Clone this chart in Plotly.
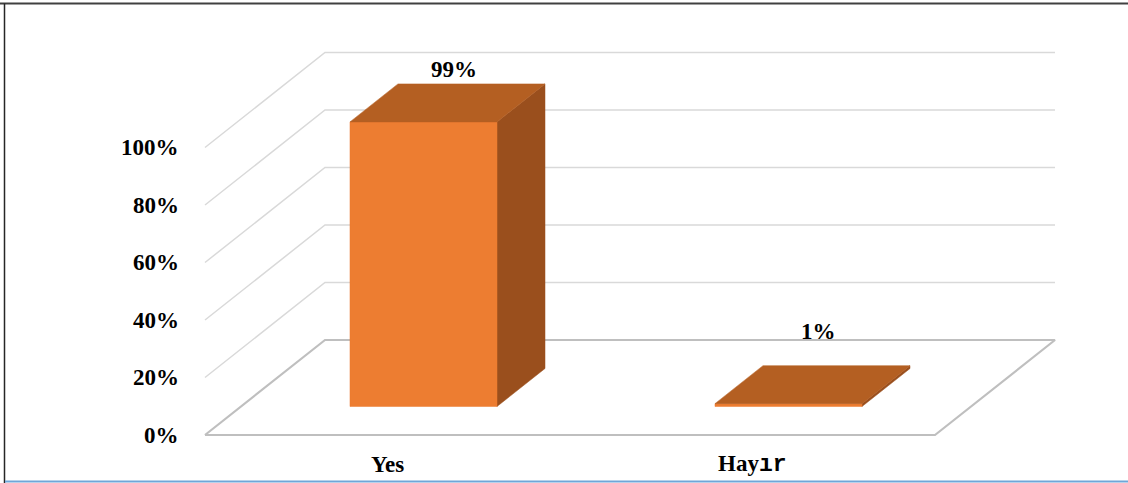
import plotly.graph_objects as go

# ---- data -------------------------------------------------------------
categories = ["Yes", "Hayır"]
category_labels = ["Yes", "Hay<span style=\"font-family:'Liberation Mono'\">ır</span>"]
values = [99, 1]                      # percent
value_labels = ["99%", "1%"]
tick_values = [0, 20, 40, 60, 80, 100]
tick_labels = ["0%", "20%", "40%", "60%", "80%", "100%"]

# ---- styling ----------------------------------------------------------
W, H = 1128, 483
PX_PER_CAT = 365.0          # horizontal pixels per category slot
PX_PER_PCT = 2.875          # vertical pixels per percent
ORIGIN_X, ORIGIN_Y = 205, 435   # pixel position of (first category edge, 0 %)
DEPTH_DX_PX, DEPTH_DY_PX = 120, 95   # oblique offset of the back wall

DX = DEPTH_DX_PX / PX_PER_CAT     # depth offset in x units
DY = DEPTH_DY_PX / PX_PER_PCT     # depth offset in y units
BAR_HALF = 0.2014                 # half bar width in category units
BAR_D0, BAR_D1 = 0.3, 0.7         # bar extent in depth (0 = front, 1 = back)
LABEL_LIFT = [33, 53]             # px above top-face centre for value labels

FRONT = "#ED7D31"
TOP = "#B45F22"
SIDE = "#9A4F1D"
GRID = "#D9D9D9"
FLOOR = "#BFBFBF"
FONT = "Times New Roman, Liberation Serif, Times, serif"
FS = 23

fig = go.Figure()


def proj(x, y, d):
    """Oblique projection of (category x, value y, depth d) into axis units."""
    return x + d * DX, y + d * DY


def line(xs, ys, color, width):
    fig.add_trace(go.Scatter(x=xs, y=ys, mode="lines",
                             line=dict(color=color, width=width),
                             hoverinfo="skip", showlegend=False))


def poly(pts, color):
    xs = [p[0] for p in pts] + [pts[0][0]]
    ys = [p[1] for p in pts] + [pts[0][1]]
    fig.add_trace(go.Scatter(x=xs, y=ys, mode="lines", fill="toself",
                             fillcolor=color, line=dict(color=color, width=0.5),
                             hoverinfo="skip", showlegend=False))


n = len(categories)

# back wall and side wall gridlines
for v in tick_values[1:]:
    bx0, by = proj(0, v, 1)
    bx1, _ = proj(n, v, 1)
    line([0, bx0, bx1], [v, by, by], GRID, 1.5)

# floor outline
f_pts = [proj(0, 0, 0), proj(n, 0, 0), proj(n, 0, 1), proj(0, 0, 1), proj(0, 0, 0)]
line([p[0] for p in f_pts], [p[1] for p in f_pts], FLOOR, 2.2)

# 3-D bars
for i, v in enumerate(values):
    c = i + 0.5
    xl, xr = c - BAR_HALF, c + BAR_HALF
    front = [proj(xl, 0, BAR_D0), proj(xr, 0, BAR_D0), proj(xr, v, BAR_D0), proj(xl, v, BAR_D0)]
    side = [proj(xr, 0, BAR_D0), proj(xr, 0, BAR_D1), proj(xr, v, BAR_D1), proj(xr, v, BAR_D0)]
    top = [proj(xl, v, BAR_D0), proj(xr, v, BAR_D0), proj(xr, v, BAR_D1), proj(xl, v, BAR_D1)]
    poly(side, SIDE)
    poly(front, FRONT)
    poly(top, TOP)

annotations = []

# value labels
for i, v in enumerate(values):
    cx, cy = proj(i + 0.5, v, 0.5)
    annotations.append(dict(x=cx, y=cy, xref="x", yref="y", text=f"<b>{value_labels[i]}</b>",
                            showarrow=False, xanchor="center", yanchor="middle",
                            xshift=6, yshift=LABEL_LIFT[i],
                            font=dict(family=FONT, size=FS, color="#000000")))

# value axis labels
for v, t in zip(tick_values, tick_labels):
    annotations.append(dict(x=0, y=v, xref="x", yref="y", text=f"<b>{t}</b>",
                            showarrow=False, xanchor="right", yanchor="middle",
                            xshift=-24, yshift=0,
                            font=dict(family=FONT, size=FS, color="#000000")))

# category labels
for i, lab in enumerate(category_labels):
    annotations.append(dict(x=i + 0.5, y=0, xref="x", yref="y", text=f"<b>{lab}</b>",
                            showarrow=False, xanchor="center", yanchor="middle",
                            yshift=-29,
                            font=dict(family=FONT, size=FS, color="#000000")))

# chart frame
shapes = [
    dict(type="line", xref="paper", yref="paper", x0=0, x1=1,
         y0=1 - 3.5 / H, y1=1 - 3.5 / H, line=dict(color="#404040", width=2)),
    dict(type="line", xref="paper", yref="paper", x0=4.5 / W, x1=4.5 / W,
         y0=0, y1=1 - 3.5 / H, line=dict(color="#262626", width=1.5)),
    dict(type="line", xref="paper", yref="paper", x0=5 / W, x1=1,
         y0=1.5 / H, y1=1.5 / H, line=dict(color="#6FA6D8", width=2)),
]

x_range = [-ORIGIN_X / PX_PER_CAT, (W - ORIGIN_X) / PX_PER_CAT]
y_range = [-(H - ORIGIN_Y) / PX_PER_PCT, ORIGIN_Y / PX_PER_PCT]

fig.update_layout(
    width=W, height=H,
    margin=dict(l=0, r=0, t=0, b=0),
    paper_bgcolor="white", plot_bgcolor="white",
    xaxis=dict(range=x_range, visible=False, fixedrange=True),
    yaxis=dict(range=y_range, visible=False, fixedrange=True),
    annotations=annotations,
    shapes=shapes,
    showlegend=False,
)

fig.write_html("out.html")
